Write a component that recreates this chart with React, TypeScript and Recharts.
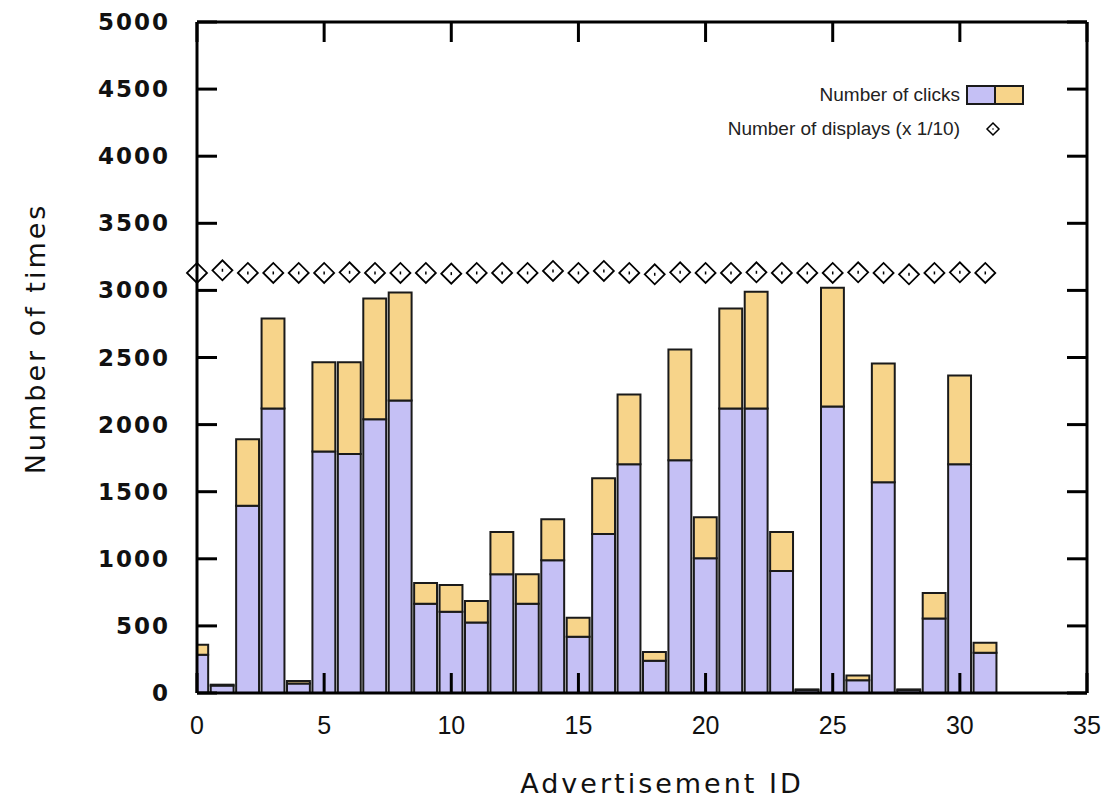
import { Bar, ComposedChart, Legend, Scatter, XAxis, YAxis } from "recharts";

const adIds = [
  0, 1, 2, 3, 4, 5, 6, 7, 8, 9, 10, 11, 12, 13, 14, 15, 16, 17, 18, 19, 20,
  21, 22, 23, 24, 25, 26, 27, 28, 29, 30, 31,
];
// purple part of each bar
const clicksLower = [
  285, 55, 1395, 2120, 70, 1800, 1780, 2040, 2180, 665, 605, 525, 885, 665,
  990, 420, 1185, 1705, 240, 1735, 1005, 2120, 2120, 910, 20, 2135, 95, 1570,
  20, 555, 1705, 300,
];
// orange part stacked on top
const clicksUpper = [
  75, 7, 495, 670, 20, 665, 685, 900, 805, 155, 200, 160, 315, 220, 305, 140,
  415, 520, 65, 825, 305, 745, 870, 290, 7, 885, 35, 885, 7, 190, 660, 75,
];
// number of displays divided by 10
const displaysTenth = [
  3130, 3150, 3130, 3130, 3130, 3130, 3135, 3130, 3130, 3130, 3125, 3130, 3130,
  3130, 3145, 3130, 3145, 3130, 3120, 3135, 3130, 3130, 3135, 3130, 3130, 3130,
  3135, 3130, 3120, 3130, 3135, 3130,
];
const xTicks = [0, 5, 10, 15, 20, 25, 30, 35];
const yTicks = [0, 500, 1000, 1500, 2000, 2500, 3000, 3500, 4000, 4500, 5000];

const data = adIds.map((id, i) => ({
  id,
  lower: clicksLower[i],
  upper: clicksUpper[i],
  displays: displaysTenth[i],
}));

const PURPLE = "#c5c0f5";
const ORANGE = "#f7d48a";
const EDGE = "#1a1a1a";
const TICK = 20;

const LeftTick = ({ x, y, payload }: any) => (
  <g>
    <line x1={x} y1={y} x2={x + TICK} y2={y} stroke="#000" strokeWidth={3} />
    <text
      x={x - 27}
      y={y + 8}
      textAnchor="end"
      fontFamily="DejaVu Sans"
      fontWeight="bold"
      fontSize={23}
      letterSpacing={2}
      fill="#111"
    >
      {payload.value}
    </text>
  </g>
);

const RightTick = ({ x, y }: any) => (
  <line x1={x} y1={y} x2={x - TICK} y2={y} stroke="#000" strokeWidth={3} />
);

const BottomTick = ({ x, y, payload }: any) => (
  <g>
    <line x1={x} y1={y} x2={x} y2={y - TICK} stroke="#000" strokeWidth={3} />
    <text
      x={x}
      y={y + 41}
      textAnchor="middle"
      fontFamily="Liberation Sans"
      fontSize={25}
      fill="#111"
    >
      {payload.value}
    </text>
  </g>
);

const TopTick = ({ x, y }: any) => (
  <line x1={x} y1={y} x2={x} y2={y + TICK} stroke="#000" strokeWidth={3} />
);

const Diamond = ({ cx, cy }: any) => (
  <g>
    <polygon
      points={`${cx - 10},${cy} ${cx},${cy - 10} ${cx + 10},${cy} ${cx},${cy + 10}`}
      fill="none"
      stroke="#000"
      strokeWidth={1.8}
    />
    <line x1={cx} y1={cy - 1.5} x2={cx} y2={cy + 1.5} stroke="#000" strokeWidth={1.5} />
  </g>
);

const LegendBox = () => (
  <div
    style={{
      fontFamily: "Liberation Sans",
      fontSize: 19,
      color: "#222",
      lineHeight: "34px",
    }}
  >
    <div style={{ display: "flex", alignItems: "center", justifyContent: "flex-end" }}>
      <span>Number of clicks</span>
      <svg width={66} height={22} style={{ marginLeft: 6 }}>
        <rect x={1} y={2} width={28} height={18} fill={PURPLE} stroke={EDGE} strokeWidth={2} />
        <rect x={29} y={2} width={28} height={18} fill={ORANGE} stroke={EDGE} strokeWidth={2} />
      </svg>
    </div>
    <div style={{ display: "flex", alignItems: "center", justifyContent: "flex-end" }}>
      <span>Number of displays (x 1/10)</span>
      <svg width={66} height={22} style={{ marginLeft: 6 }}>
        <polygon points="21,11 27,5 33,11 27,17" fill="none" stroke="#000" strokeWidth={1.5} />
        <circle cx={27} cy={11} r={0.8} fill="#000" />
      </svg>
    </div>
  </div>
);

const YLabel = ({ viewBox }: any) => {
  const cy = viewBox.y + viewBox.height / 2 - 19;
  return (
    <text
      x={27}
      y={cy}
      transform={`rotate(-90, 27, ${cy})`}
      textAnchor="middle"
      dominantBaseline="central"
      fontFamily="DejaVu Sans"
      fontSize={27}
      letterSpacing={3}
      fill="#111"
    >
      Number of times
    </text>
  );
};

const XLabel = () => (
  <text
    x={654}
    y={785}
    textAnchor="middle"
    fontFamily="DejaVu Sans"
    fontSize={27}
    letterSpacing={3}
    fill="#111"
  >
    Advertisement ID
  </text>
);

export default function App() {
  return (
    <div style={{ height: 786 }}>
      <ComposedChart
        width={1097}
        height={794}
        data={data}
        margin={{ top: 13, right: 17, bottom: 49, left: 0 }}
      >
        <Bar
          dataKey="lower"
          stackId="clicks"
          xAxisId="top"
          fill={PURPLE}
          stroke={EDGE}
          strokeWidth={2}
          barSize={890 / 35}
          isAnimationActive={false}
        />
        <Bar
          dataKey="upper"
          stackId="clicks"
          xAxisId="top"
          fill={ORANGE}
          stroke={EDGE}
          strokeWidth={2}
          barSize={890 / 35}
          isAnimationActive={false}
        />
        <Scatter
          dataKey="displays"
          xAxisId="bottom"
          yAxisId="right"
          shape={<Diamond />}
          isAnimationActive={false}
        />
        <XAxis
          xAxisId="bottom"
          dataKey="id"
          type="number"
          domain={[0, 35]}
          ticks={xTicks}
          height={60}
          tickLine={false}
          tickSize={0}
          tickMargin={0}
          tick={<BottomTick />}
          axisLine={{ stroke: "#000", strokeWidth: 3 }}
          label={<XLabel />}
        />
        <XAxis
          xAxisId="top"
          orientation="top"
          dataKey="id"
          type="number"
          domain={[0, 35]}
          ticks={xTicks}
          allowDataOverflow
          height={1}
          tickLine={false}
          tickSize={0}
          tickMargin={0}
          tick={<TopTick />}
          axisLine={{ stroke: "#000", strokeWidth: 3 }}
        />
        <YAxis
          type="number"
          domain={[0, 5000]}
          ticks={yTicks}
          width={189}
          tickLine={false}
          tickSize={0}
          tickMargin={0}
          tick={<LeftTick />}
          axisLine={{ stroke: "#000", strokeWidth: 3 }}
          label={<YLabel />}
        />
        <YAxis
          yAxisId="right"
          orientation="right"
          type="number"
          domain={[0, 5000]}
          ticks={yTicks}
          width={1}
          tickLine={false}
          tickSize={0}
          tickMargin={0}
          tick={<RightTick />}
          axisLine={{ stroke: "#000", strokeWidth: 3 }}
        />
        <Legend
          layout="horizontal"
          verticalAlign="middle"
          align="center"
          wrapperStyle={{ top: 70, left: 620, width: 404 }}
          content={<LegendBox />}
        />
      </ComposedChart>
    </div>
  );
}
